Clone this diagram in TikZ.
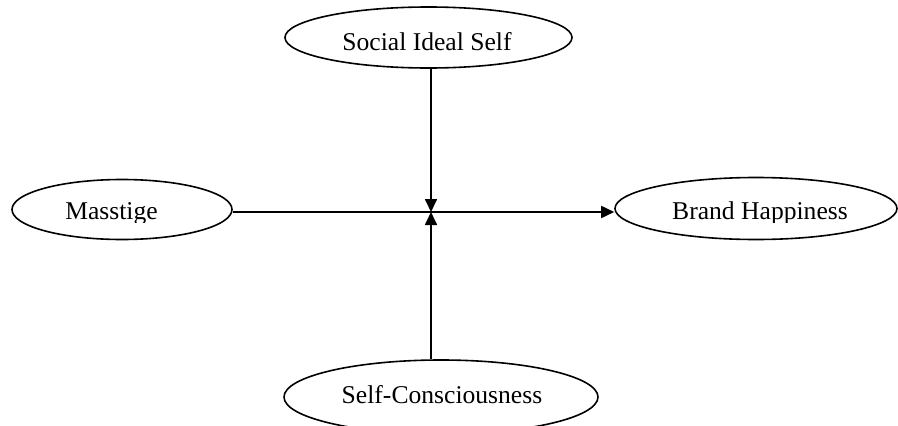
\documentclass[tikz,border=0pt]{standalone}
\usepackage{fontspec}
\setmainfont{Liberation Serif}
\usetikzlibrary{shapes.geometric,arrows.meta}

\tikzset{
  construct/.style={draw=black, line width=1.6pt, ellipse, inner sep=0pt},
  label text/.style={anchor=base, inner sep=0pt, font=\fontsize{25.6}{30}\selectfont},
  arr/.style={line width=1.7pt, -{Triangle[length=13pt,width=12pt]}},
}

\begin{document}
\begin{tikzpicture}[x=1pt, y=-1pt]
  \fill[white] (0,0) rectangle (898,426);
  \useasboundingbox (0,0) rectangle (898,426);

  % construct ellipses
  \node[construct, minimum width=287pt, minimum height=61pt] (sis) at (428.5,37.5) {};
  \node[construct, minimum width=220pt, minimum height=60pt] (mas) at (122,209.5) {};
  \node[construct, minimum width=282pt, minimum height=62pt] (bh)  at (756,208.5) {};
  \node[construct, minimum width=314pt, minimum height=74pt] (sc)  at (441,397) {};

  % labels
  \node[label text] (sisT) at (427,50) {Social Ideal Self};
  \node[label text] (scT)  at (442,403) {Self-Consciousness};
  \begin{scope}
    \clip (0,0) rectangle (898,222.5);
    \node[label text] (masT) at (111.5,219.5) {Masstige};
    \node[label text] (bhT)  at (760,219.5) {Brand Happiness};
  \end{scope}

  % paths
  \coordinate (hub) at (431,212);
  \draw[arr] (mas.east |- hub) -- (bh.west |- hub);
  \draw[arr] (sis.south -| hub) -- (hub);
  \draw[arr] (sc.north -| hub) -- (hub);
\end{tikzpicture}
\end{document}
